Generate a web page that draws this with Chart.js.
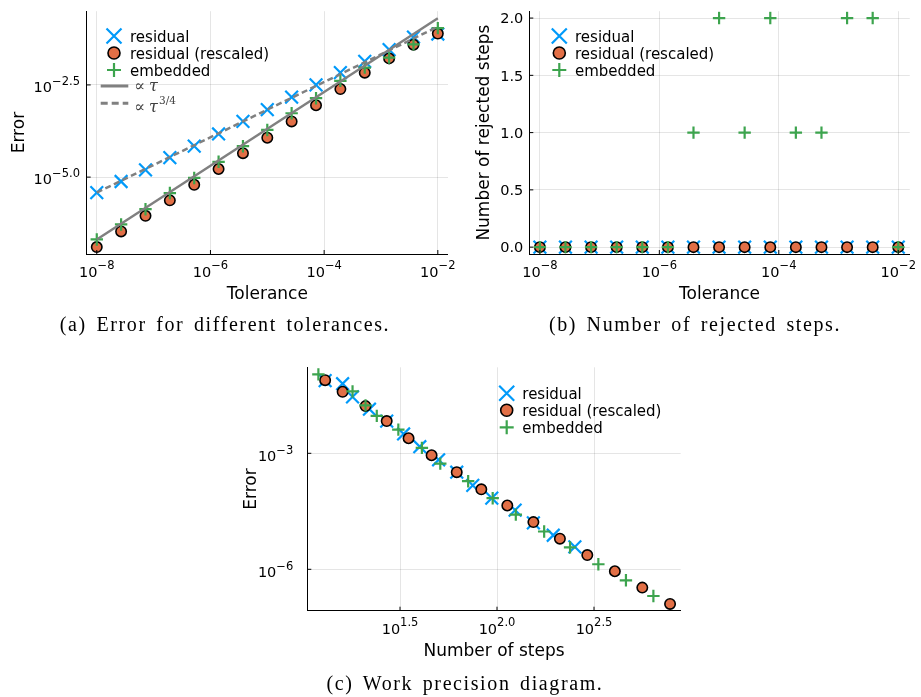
<!DOCTYPE html>
<html>
<head>
<meta charset="utf-8">
<script src="https://cdn.jsdelivr.net/npm/chart.js@4.4.0/dist/chart.umd.min.js"></script>
<style>
  body { margin: 0; background: #fff; width: 921px; height: 697px; position: relative; overflow: hidden; }
  canvas { position: absolute; left: 0; top: 0; }
  .cap { position: absolute; width: 500px; text-align: center; font-family: "Liberation Serif", serif;
         font-size: 20px; line-height: 20px; color: #000; white-space: nowrap;
         letter-spacing: 1.6px; word-spacing: 3px; }
</style>
</head>
<body>
<canvas id="chartA" width="921" height="697"></canvas>
<canvas id="chartB" width="921" height="697"></canvas>
<canvas id="chartC" width="921" height="697"></canvas>
<div class="cap" style="left:-25px; top:314px;">(a) Error for different tolerances.</div>
<div class="cap" style="left:445px; top:314px;">(b) Number of rejected steps.</div>
<div class="cap" style="left:215px; top:673px;">(c) Work precision diagram.</div>
<script>
// data
const seriesNames = ['residual', 'residual (rescaled)', 'embedded'];
const tolerance = [1.0e-8, 2.68e-8, 7.20e-8, 1.93e-7, 5.18e-7, 1.39e-6, 3.73e-6, 1.0e-5,
                   2.68e-5, 7.20e-5, 1.93e-4, 5.18e-4, 1.39e-3, 3.73e-3, 1.0e-2];

// (a) error vs tolerance
const errResidual = [3.8e-6, 7.6e-6, 1.58e-5, 3.39e-5, 6.9e-5, 1.48e-4, 3.24e-4, 6.8e-4,
                     1.48e-3, 3.16e-3, 6.8e-3, 1.38e-2, 2.88e-2, 6.3e-2, 7.6e-2];
const errRescaled = [1.27e-7, 3.36e-7, 8.9e-7, 2.34e-6, 6.2e-6, 1.66e-5, 4.47e-5, 1.17e-4,
                     3.24e-4, 8.9e-4, 2.45e-3, 6.8e-3, 1.66e-2, 3.9e-2, 7.8e-2];
const errEmbedded = [2.04e-7, 5.2e-7, 1.35e-6, 3.7e-6, 9.5e-6, 2.6e-5, 6.9e-5, 1.9e-4,
                     5.4e-4, 1.38e-3, 4.1e-3, 9.3e-3, 1.74e-2, 3.98e-2, 1.1e-1];
// reference slopes (end points)
const refTol = [1e-8, 1e-2];
const refLinear = [2.04e-7, 2.04e-1];   // prop. tau
const refPower = [3.8e-6, 1.2e-1];      // prop. tau^(3/4)

// (b) rejected steps
const rejResidual = [0, 0, 0, 0, 0, 0, 0, 0, 0, 0, 0, 0, 0, 0, 0];
const rejRescaled = [0, 0, 0, 0, 0, 0, 0, 0, 0, 0, 0, 0, 0, 0, 0];
const rejEmbedded = [0, 0, 0, 0, 0, 0, 1, 2, 1, 2, 1, 1, 2, 2, 0];

// (c) number of steps
const stepsResidual = [252, 195, 154, 124, 94, 75, 62, 50, 40, 33, 27, 22, 18, 16, 13];
const stepsRescaled = [780, 561, 405, 292, 211, 154, 113, 83, 62, 46, 35, 27, 21, 16, 13];
const stepsEmbedded = [640, 462, 333, 238, 175, 125, 95, 71, 51, 41, 31, 24, 21, 18, 12];

// ticks
const tolTicks = [1e-8, 1e-6, 1e-4, 1e-2];
const tolLabels = [['10', '\u22128'], ['10', '\u22126'], ['10', '\u22124'], ['10', '\u22122']];
const errTicksA = [1e-5, 3.1623e-3];
const errLabelsA = [['10', '\u22125.0'], ['10', '\u22122.5']];
const rejTicks = [0, 0.5, 1, 1.5, 2];
const rejLabels = ['0.0', '0.5', '1.0', '1.5', '2.0'];
const stepTicks = [31.623, 100, 316.23];
const stepLabels = [['10', '1.5'], ['10', '2.0'], ['10', '2.5']];
const errTicksC = [1e-6, 1e-3];
const errLabelsC = [['10', '\u22126'], ['10', '\u22123']];

const blue = '#009AFA', orange = '#E26F46', green = '#3DA44E', gray = '#808080';
const sans = '"DejaVu Sans", sans-serif';

function pts(xs, ys) { return xs.map((x, i) => ({ x: x, y: ys[i] })); }

function markerSets(xs1, y1, xs2, y2, xs3, y3) {
  return [
    { label: seriesNames[0], data: pts(xs1, y1), pointStyle: 'crossRot', pointRadius: 9,
      pointBorderColor: blue, pointBackgroundColor: blue, pointBorderWidth: 2.2, order: 5 },
    { label: seriesNames[1], data: pts(xs2, y2), pointStyle: 'circle', pointRadius: 5.2,
      pointBackgroundColor: orange, pointBorderColor: '#000', pointBorderWidth: 1.6, order: 4 },
    { label: seriesNames[2], data: pts(xs3, y3), pointStyle: 'cross', pointRadius: 6.2,
      pointBorderColor: green, pointBackgroundColor: green, pointBorderWidth: 2.2, order: 3 }
  ];
}

function axis(type, pos, min, max, ticks) {
  return {
    type: type, position: pos, min: min, max: max,
    afterBuildTicks: s => { s.ticks = ticks.map(v => ({ value: v })); },
    afterFit: s => { if (pos === 'bottom') s.height = 0; else s.width = 0; },
    ticks: { display: false },
    grid: { color: 'rgba(0,0,0,0.1)', lineWidth: 1, drawTicks: false },
    border: { display: true, color: '#000', width: 1 }
  };
}

function drawLabel(ctx, lab, x, y, align, supOff) {
  let base = Array.isArray(lab) ? lab[0] : lab;
  let exp = Array.isArray(lab) ? lab[1] : '';
  ctx.fillStyle = '#000';
  ctx.textAlign = 'left';
  ctx.textBaseline = 'alphabetic';
  ctx.font = '14.5px ' + sans;
  let w1 = ctx.measureText(base).width;
  ctx.font = '11.5px ' + sans;
  let w2 = exp ? ctx.measureText(exp).width : 0;
  let x0 = align === 'center' ? x - (w1 + w2) / 2 : x - w1 - w2;
  ctx.font = '14.5px ' + sans;
  ctx.fillText(base, x0, y);
  if (exp) {
    ctx.font = '11.5px ' + sans;
    ctx.fillText(exp, x0 + w1, y + supOff);
  }
}

function drawLegend(ctx, mx, my, tx) {
  ctx.lineWidth = 2.2;
  // residual
  ctx.strokeStyle = blue;
  ctx.beginPath();
  ctx.moveTo(mx - 7.5, my - 7.5); ctx.lineTo(mx + 7.5, my + 7.5);
  ctx.moveTo(mx - 7.5, my + 7.5); ctx.lineTo(mx + 7.5, my - 7.5);
  ctx.stroke();
  // rescaled
  ctx.beginPath();
  ctx.arc(mx, my + 17, 6, 0, Math.PI * 2);
  ctx.fillStyle = orange; ctx.fill();
  ctx.lineWidth = 1.6; ctx.strokeStyle = '#000'; ctx.stroke();
  // embedded
  ctx.lineWidth = 2.2; ctx.strokeStyle = green;
  ctx.beginPath();
  ctx.moveTo(mx - 7, my + 34); ctx.lineTo(mx + 7, my + 34);
  ctx.moveTo(mx, my + 27); ctx.lineTo(mx, my + 41);
  ctx.stroke();
  ctx.fillStyle = '#000';
  ctx.font = '15px ' + sans;
  ctx.textAlign = 'left';
  ctx.textBaseline = 'alphabetic';
  seriesNames.forEach((n, i) => ctx.fillText(n, tx, my + 5.5 + 17 * i));
}

function decor(conf) {
  return {
    id: 'decor',
    afterDraw(chart) {
      const ctx = chart.ctx, xs = chart.scales.x, ys = chart.scales.y, a = chart.chartArea;
      ctx.save();
      // small inward ticks
      ctx.strokeStyle = '#000';
      ctx.lineWidth = 1;
      ctx.beginPath();
      conf.xTicks.forEach(v => {
        let px = xs.getPixelForValue(v);
        ctx.moveTo(px, a.bottom); ctx.lineTo(px, a.bottom - 4);
      });
      conf.yTicks.forEach(v => {
        let py = ys.getPixelForValue(v);
        ctx.moveTo(a.left, py); ctx.lineTo(a.left + 4, py);
      });
      ctx.stroke();
      // tick labels
      conf.xTicks.forEach((v, i) => drawLabel(ctx, conf.xLabels[i], xs.getPixelForValue(v), a.bottom + 23.3, 'center', -8.5));
      conf.yTicks.forEach((v, i) => drawLabel(ctx, conf.yLabels[i], a.left - conf.yGap, ys.getPixelForValue(v) + conf.yBase, 'right', -7));
      // axis titles
      ctx.fillStyle = '#000';
      ctx.font = '17px ' + sans;
      ctx.textAlign = 'center';
      ctx.textBaseline = 'alphabetic';
      ctx.fillText(conf.xTitle, (a.left + a.right) / 2, a.bottom + 45);
      ctx.save();
      ctx.translate(conf.yTitleX, (a.top + a.bottom) / 2);
      ctx.rotate(-Math.PI / 2);
      ctx.fillText(conf.yTitle, 0, 0);
      ctx.restore();
      // legend
      drawLegend(ctx, conf.legX, conf.legY, conf.legTextX);
      if (conf.extra) conf.extra(ctx);
      ctx.restore();
    }
  };
}

function baseOptions(pad, scales) {
  return {
    responsive: false, animation: false, events: [],
    layout: { padding: pad },
    plugins: { legend: { display: false }, tooltip: { enabled: false } },
    scales: scales
  };
}

// (a) Error for different tolerances
new Chart(document.getElementById('chartA'), {
  type: 'scatter',
  data: {
    datasets: markerSets(tolerance, errResidual, tolerance, errRescaled, tolerance, errEmbedded).concat([
      { label: 'tau', data: pts(refTol, refLinear), showLine: true, pointRadius: 0,
        borderColor: gray, borderWidth: 2.5, order: 2 },
      { label: 'tau34', data: pts(refTol, refPower), showLine: true, pointRadius: 0,
        borderColor: gray, borderWidth: 2.5, borderDash: [6, 3.5], order: 1 }
    ])
  },
  options: baseOptions({ left: 86.7, right: 473, top: 10, bottom: 443 }, {
    x: axis('logarithmic', 'bottom', 6.65e-9, 1.51e-2, tolTicks),
    y: axis('logarithmic', 'left', 8.22e-8, 0.316, errTicksA)
  }),
  plugins: [decor({
    xTicks: tolTicks, xLabels: tolLabels, yTicks: errTicksA, yLabels: errLabelsA,
    yGap: 6.7, yBase: 6.7, xTitle: 'Tolerance', yTitle: 'Error', yTitleX: 24.3,
    legX: 114, legY: 36, legTextX: 130,
    extra: ctx => {
      ctx.strokeStyle = gray;
      ctx.lineWidth = 3;
      ctx.beginPath(); ctx.moveTo(100.7, 86); ctx.lineTo(128.3, 86); ctx.stroke();
      ctx.setLineDash([7, 4]);
      ctx.beginPath(); ctx.moveTo(100.7, 103.3); ctx.lineTo(128.3, 103.3); ctx.stroke();
      ctx.setLineDash([]);
      ctx.fillStyle = '#404040';
      ctx.textAlign = 'left';
      ctx.font = '16px "DejaVu Serif", serif';
      ctx.fillText('\u221D', 134, 90.5);
      ctx.fillText('\u221D', 134, 112);
      ctx.font = 'italic 16px "DejaVu Serif", serif';
      ctx.fillText('\u03C4', 149, 90.5);
      ctx.fillText('\u03C4', 149, 112);
      ctx.font = '10.5px "DejaVu Serif", serif';
      ctx.fillText('3/4', 159, 103.5);
    }
  })]
});

// (b) Number of rejected steps
new Chart(document.getElementById('chartB'), {
  type: 'scatter',
  data: { datasets: markerSets(tolerance, rejResidual, tolerance, rejRescaled, tolerance, rejEmbedded) },
  options: baseOptions({ left: 529.3, right: 7, top: 10, bottom: 443 }, {
    x: axis('logarithmic', 'bottom', 6.65e-9, 1.56e-2, tolTicks),
    y: axis('linear', 'left', -0.06, 2.06, rejTicks)
  }),
  plugins: [decor({
    xTicks: tolTicks, xLabels: tolLabels, yTicks: rejTicks, yLabels: rejLabels,
    yGap: 6, yBase: 5.3, xTitle: 'Tolerance', yTitle: 'Number of rejected steps', yTitleX: 489,
    legX: 559.3, legY: 36, legTextX: 575
  })]
});

// (c) Work precision diagram
new Chart(document.getElementById('chartC'), {
  type: 'scatter',
  data: { datasets: markerSets(stepsResidual, errResidual, stepsRescaled, errRescaled, stepsEmbedded, errEmbedded) },
  options: baseOptions({ left: 307.3, right: 240.3, top: 367.3, bottom: 86.3 }, {
    x: axis('logarithmic', 'bottom', 10.52, 885, stepTicks),
    y: axis('logarithmic', 'left', 8.5e-8, 0.1675, errTicksC)
  }),
  plugins: [decor({
    xTicks: stepTicks, xLabels: stepLabels, yTicks: errTicksC, yLabels: errLabelsC,
    yGap: 14, yBase: 7.3, xTitle: 'Number of steps', yTitle: 'Error', yTitleX: 256,
    legX: 506.7, legY: 393.3, legTextX: 522.3
  })]
});
</script>
</body>
</html>
